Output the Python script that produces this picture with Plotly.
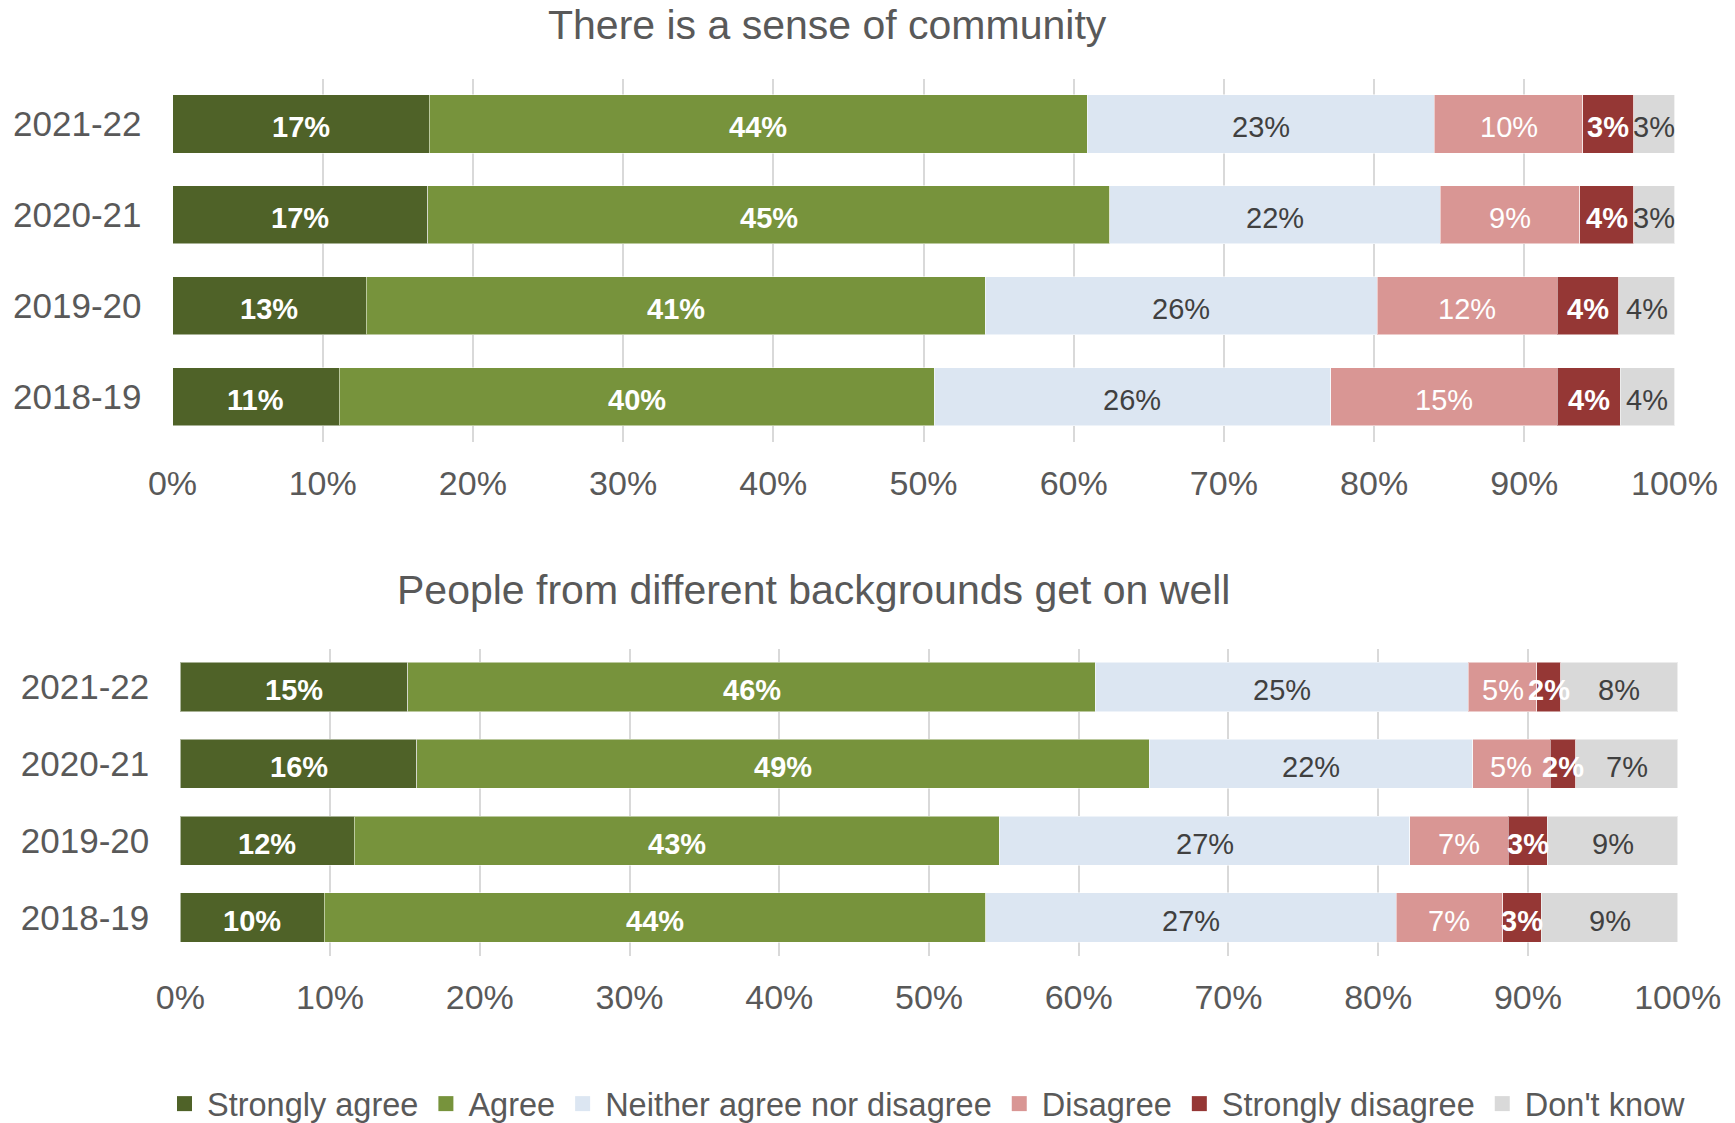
import plotly.graph_objects as go

years = ["2018-19", "2019-20", "2020-21", "2021-22"]
categories = ["Strongly agree", "Agree", "Neither agree nor disagree",
              "Disagree", "Strongly disagree", "Don't know"]

# Panel 1: There is a sense of community (%)
comm_strongly_agree = [11.1, 12.9, 17.0, 17.1]
comm_agree = [39.6, 41.2, 45.4, 43.8]
comm_neither = [26.4, 26.1, 22.0, 23.1]
comm_disagree = [15.1, 12.0, 9.3, 9.9]
comm_strongly_disagree = [4.2, 4.1, 3.6, 3.4]
comm_dont_know = [3.6, 3.7, 2.7, 2.7]

# Panel 2: People from different backgrounds get on well (%)
bg_strongly_agree = [9.6, 11.6, 15.8, 15.2]
bg_agree = [44.2, 43.1, 48.9, 45.9]
bg_neither = [27.4, 27.4, 21.6, 24.9]
bg_disagree = [7.1, 6.6, 5.2, 4.6]
bg_strongly_disagree = [2.6, 2.6, 1.7, 1.6]
bg_dont_know = [9.1, 8.7, 6.8, 7.8]

x_ticks = [0, 10, 20, 30, 40, 50, 60, 70, 80, 90, 100]
x_tick_labels = ["0%", "10%", "20%", "30%", "40%", "50%", "60%", "70%",
                 "80%", "90%", "100%"]
titles = ["There is a sense of community",
          "People from different backgrounds get on well"]

colors = ["#4F6228", "#77933C", "#DCE6F2", "#D99694", "#953735", "#D9D9D9"]
text_colors = ["white", "white", "#404040", "white", "white", "#404040"]
text_weights = ["bold", "bold", "normal", "normal", "bold", "normal"]

FONT = "Liberation Sans, Arial, sans-serif"
GREY = "#595959"

panel1 = [comm_strongly_agree, comm_agree, comm_neither, comm_disagree,
          comm_strongly_disagree, comm_dont_know]
panel2 = [bg_strongly_agree, bg_agree, bg_neither, bg_disagree,
          bg_strongly_disagree, bg_dont_know]

fig = go.Figure()
annotations = []

# bars, plus data labels (annotations drawn above all bars, at segment centres)
for panel, xa, ya in [(panel1, "x", "y"), (panel2, "x2", "y2")]:
    base = [0.0] * len(years)
    for i, (cat, vals) in enumerate(zip(categories, panel)):
        fig.add_trace(go.Bar(
            y=years, x=vals, orientation="h", name=cat,
            xaxis=xa, yaxis=ya,
            marker=dict(color=colors[i], line=dict(color="rgba(255,255,255,0.5)", width=1)),
            showlegend=False, hoverinfo="skip",
        ))
        for yr, b, v in zip(years, base, vals):
            annotations.append(dict(
                x=b + v / 2, y=yr, xref=xa, yref=ya, text=f"{v:.0f}%",
                showarrow=False, xanchor="center", yanchor="middle", yshift=-3,
                font=dict(family=FONT, size=29, color=text_colors[i],
                          weight=text_weights[i]),
            ))
        base = [b + v for b, v in zip(base, vals)]

# legend entries
for i, cat in enumerate(categories):
    fig.add_trace(go.Scatter(
        x=[None], y=[None], mode="markers", name=cat,
        marker=dict(symbol="square", size=15, color=colors[i]),
        showlegend=True, hoverinfo="skip",
    ))

W, H = 1735, 1123
def px(v, total):
    return v / total

annotations += [
    dict(text=titles[0], x=px(827, W), y=1 - px(24.5, H), xref="paper", yref="paper",
         xanchor="center", yanchor="middle", showarrow=False,
         font=dict(family=FONT, size=41, color=GREY)),
    dict(text=titles[1], x=px(813, W), y=1 - px(590, H), xref="paper", yref="paper",
         xanchor="center", yanchor="middle", showarrow=False,
         font=dict(family=FONT, size=41, color=GREY)),
]

xaxis_common = dict(range=[0, 100], tickvals=x_ticks, ticktext=x_tick_labels,
                    showgrid=True, gridcolor="#D9D9D9", gridwidth=2,
                    zeroline=False, showline=False, ticks="",
                    ticklabelstandoff=18,
                    tickfont=dict(family=FONT, size=34, color=GREY))
yaxis_common = dict(categoryorder="array", categoryarray=years,
                    showgrid=False, zeroline=False, showline=False, ticks="",
                    ticklabelstandoff=30,
                    tickfont=dict(family=FONT, size=35, color=GREY))

fig.update_layout(
    width=W, height=H,
    margin=dict(l=0, r=0, t=0, b=0, autoexpand=False),
    paper_bgcolor="white", plot_bgcolor="white",
    barmode="stack", bargap=0.36,
    font=dict(family=FONT, color=GREY),
    xaxis=dict(domain=[px(172.5, W), px(1674.5, W)], anchor="y", **xaxis_common),
    yaxis=dict(domain=[1 - px(442, H), 1 - px(78.6, H)], anchor="x", **yaxis_common),
    xaxis2=dict(domain=[px(180.3, W), px(1677.7, W)], anchor="y2", **xaxis_common),
    yaxis2=dict(domain=[1 - px(956, H), 1 - px(648.5, H)], anchor="x2", **yaxis_common),
    legend=dict(orientation="h", x=px(162, W), xanchor="left",
                y=1 - px(1104, H), yanchor="middle", itemwidth=35,
                font=dict(family=FONT, size=32.5, color=GREY),
                traceorder="normal", itemclick=False, itemdoubleclick=False),
    annotations=annotations,
)

fig.write_html("out.html", post_script="document.body.style.margin='0';",
               config={"displayModeBar": False})
